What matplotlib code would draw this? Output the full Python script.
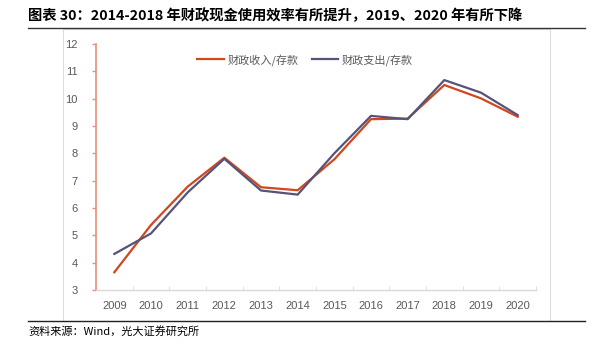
import matplotlib
matplotlib.use("Agg")
import matplotlib.pyplot as plt
import matplotlib.lines as mlines
import matplotlib.patches as patches

plt.rcParams['font.family'] = ['Noto Sans CJK SC', 'DejaVu Sans']

years = ['2009', '2010', '2011', '2012', '2013', '2014', '2015', '2016', '2017', '2018', '2019', '2020']
revenue_ratio = [3.65, 5.38, 6.78, 7.84, 6.76, 6.65, 7.78, 9.25, 9.27, 10.50, 10.01, 9.34]
spending_ratio = [4.32, 5.07, 6.57, 7.80, 6.64, 6.49, 8.00, 9.37, 9.25, 10.68, 10.22, 9.40]
yticks = [3, 4, 5, 6, 7, 8, 9, 10, 11, 12]

title = '图表 30：2014-2018 年财政现金使用效率有所提升，2019、2020 年有所下降'
source = '资料来源：Wind，光大证券研究所'

c_rev = '#D2461E'
c_exp = '#56537A'
c_spine = '#E8917A'
c_text = '#595959'

fig = plt.figure(figsize=(6.04, 3.47), dpi=100)
W, H = 604, 347

# title, rules and frame
fig.text(28 / W, 1 - 16 / H, title, fontsize=10.3, fontweight='bold', color='black',
         va='center', ha='left')
fig.add_artist(mlines.Line2D([28 / W, 585 / W], [1 - 28 / H, 1 - 28 / H],
                             color='#333333', lw=1.0))
fig.add_artist(mlines.Line2D([28 / W, 585 / W], [1 - 321 / H, 1 - 321 / H],
                             color='#222222', lw=1.0))
fig.add_artist(patches.Rectangle((63 / W, 1 - 321 / H), (550 - 63) / W, (321 - 29) / H,
                                 fill=False, edgecolor='#DDDDDD', lw=0.8))
fig.text(28 / W, 1 - 331 / H, source, fontsize=8, color='black', va='center', ha='left')

ax = fig.add_axes([96 / W, 1 - 290 / H, 440 / W, 246 / H])
x = list(range(len(years)))
ax.plot(x, revenue_ratio, color=c_rev, lw=1.6, label='财政收入/存款')
ax.plot(x, spending_ratio, color=c_exp, lw=1.6, label='财政支出/存款')

ax.set_xlim(-0.5, len(years) - 0.5)
ax.set_ylim(3, 12)
ax.set_yticks(yticks)
ax.set_yticklabels([str(v) for v in yticks], family=['Liberation Sans', 'DejaVu Sans'])
ax.set_xticks(x)
ax.set_xticklabels(years, family=['Liberation Sans', 'DejaVu Sans'])
ax.set_xticks([i - 0.5 for i in range(len(years) + 1)], minor=True)

for s in ['top', 'right']:
    ax.spines[s].set_visible(False)
ax.spines['left'].set_color(c_spine)
ax.spines['left'].set_linewidth(1.2)
ax.spines['bottom'].set_color('#D9D9D9')
ax.spines['bottom'].set_linewidth(1.0)

ax.tick_params(axis='y', colors=c_spine, labelcolor=c_text, labelsize=8, length=3, width=1, pad=10)
ax.tick_params(axis='x', which='major', length=0, labelcolor=c_text, labelsize=8, pad=8)
ax.tick_params(axis='x', which='minor', direction='in', length=3, color='#D9D9D9')

ax.legend(loc='upper center', bbox_to_anchor=(0.475, 1.0), ncol=2, frameon=False,
          fontsize=8, labelcolor=c_text, handlelength=2.4, handletextpad=0.3, columnspacing=1.2)

fig.savefig('out.png', dpi=100)
